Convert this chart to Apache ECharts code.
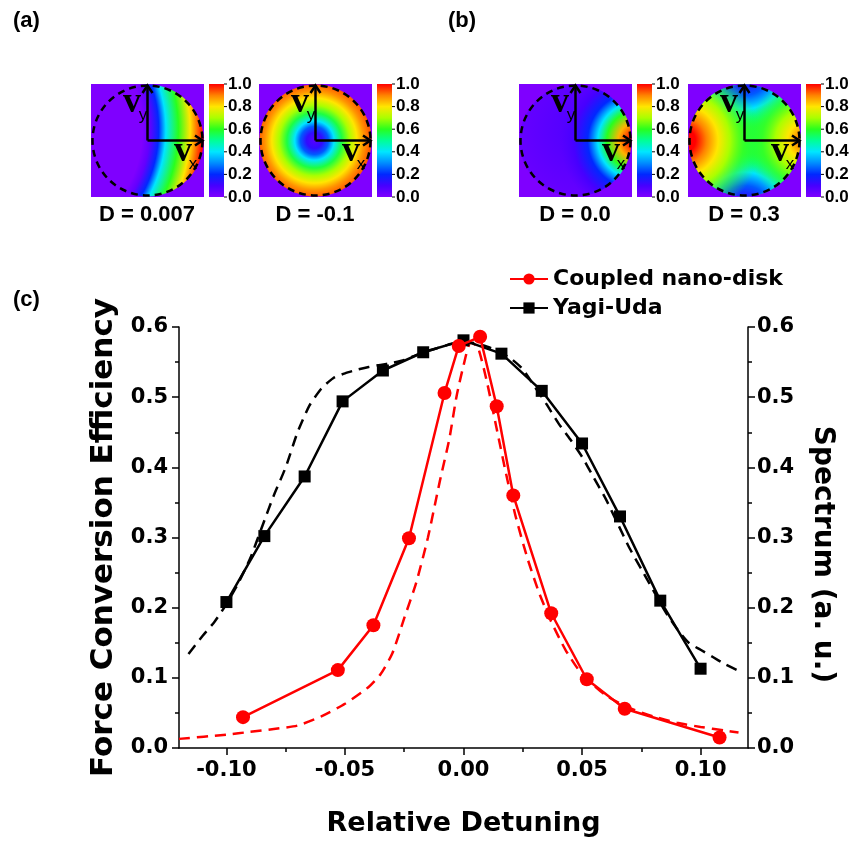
<!DOCTYPE html>
<html><head><meta charset="utf-8">
<script src="https://cdn.jsdelivr.net/npm/echarts@6.0.0/dist/echarts.min.js"></script>
<style>html,body{margin:0;padding:0;background:#fff}#c{width:851px;height:842px}</style>
</head><body><div id="c"></div><script>
// ---------- data ----------
const coupledX = [-0.093, -0.053, -0.038, -0.023, -0.008, -0.002, 0.007, 0.014, 0.021, 0.037, 0.052, 0.068, 0.108];
const coupledY = [0.044, 0.111, 0.175, 0.299, 0.506, 0.573, 0.586, 0.487, 0.360, 0.192, 0.098, 0.056, 0.015];
const yagiX = [-0.100, -0.084, -0.067, -0.051, -0.034, -0.017, 0.000, 0.016, 0.033, 0.050, 0.066, 0.083, 0.100];
const yagiY = [0.208, 0.302, 0.387, 0.494, 0.538, 0.564, 0.581, 0.562, 0.509, 0.434, 0.330, 0.210, 0.113];
const coupledSpecX = [-0.120, -0.100, -0.090, -0.080, -0.070, -0.060, -0.050, -0.040, -0.035, -0.030, -0.025, -0.020, -0.015, -0.010, -0.006, -0.003, 0.000, 0.003, 0.006, 0.010, 0.014, 0.018, 0.022, 0.027, 0.032, 0.037, 0.043, 0.050, 0.060, 0.070, 0.080, 0.090, 0.100, 0.110, 0.116];
const coupledSpecY = [0.013, 0.019, 0.023, 0.027, 0.032, 0.045, 0.063, 0.087, 0.105, 0.135, 0.185, 0.235, 0.300, 0.380, 0.440, 0.500, 0.545, 0.578, 0.572, 0.520, 0.455, 0.390, 0.330, 0.270, 0.220, 0.180, 0.140, 0.105, 0.075, 0.057, 0.045, 0.036, 0.030, 0.025, 0.022];
const yagiSpecX = [-0.116, -0.110, -0.105, -0.100, -0.095, -0.090, -0.085, -0.080, -0.075, -0.070, -0.065, -0.060, -0.055, -0.050, -0.045, -0.040, -0.035, -0.030, -0.025, -0.020, -0.015, -0.010, -0.005, 0.000, 0.005, 0.010, 0.015, 0.020, 0.025, 0.030, 0.035, 0.040, 0.045, 0.050, 0.055, 0.060, 0.065, 0.070, 0.075, 0.080, 0.085, 0.090, 0.095, 0.100, 0.105, 0.110, 0.116];
const yagiSpecY = [0.134, 0.160, 0.180, 0.205, 0.235, 0.270, 0.315, 0.360, 0.400, 0.450, 0.488, 0.512, 0.527, 0.534, 0.539, 0.543, 0.546, 0.549, 0.553, 0.560, 0.566, 0.571, 0.576, 0.578, 0.577, 0.572, 0.565, 0.555, 0.540, 0.515, 0.490, 0.463, 0.440, 0.415, 0.385, 0.355, 0.320, 0.285, 0.255, 0.225, 0.195, 0.170, 0.150, 0.140, 0.130, 0.120, 0.110];
const xMajorTicks = [-0.10, -0.05, 0.00, 0.05, 0.10];
const xMinorTicks = [-0.075, -0.025, 0.025, 0.075];
const cbarTicks = [0.0, 0.2, 0.4, 0.6, 0.8, 1.0];
const insetTitles = ['D = 0.007', 'D = -0.1', 'D = 0.0', 'D = 0.3'];
const panelLabels = ['(a)', '(b)', '(c)'];
const seriesNames = ['Coupled nano-disk', 'Yagi-Uda'];
const xName = 'Relative Detuning';
const yLeftName = 'Force Conversion Efficiency';
const yRightName = 'Spectrum (a. u.)';

// ---------- styling helpers ----------
const FONT = '"DejaVu Sans", sans-serif';
const AFONT = '"Liberation Sans", Arial, sans-serif';
const cmapStops = [[0,[127,0,255]],[0.1,[70,0,255]],[0.2,[0,40,255]],[0.3,[0,140,255]],[0.4,[0,230,255]],[0.5,[0,255,150]],[0.6,[40,255,30]],[0.7,[170,255,0]],[0.8,[255,230,0]],[0.9,[255,130,0]],[1,[255,0,0]]];
function cmap(v, a) {
  v = Math.max(0, Math.min(1, v));
  for (let i = 1; i < cmapStops.length; i++) {
    if (v <= cmapStops[i][0]) {
      const [v0, c0] = cmapStops[i-1], [v1, c1] = cmapStops[i];
      const t = (v - v0) / (v1 - v0);
      const c = c0.map((k, j) => Math.round(k + (c1[j] - k) * t));
      return 'rgba(' + c.join(',') + ',' + (a === undefined ? 1 : a) + ')';
    }
  }
  return 'rgba(255,0,0,' + (a === undefined ? 1 : a) + ')';
}
function stops(list) { return list.map(s => ({offset: s[0], color: cmap(s[1], s[2])})); }
function radial(x, y, r, list) { return {type: 'radial', x: x, y: y, r: r, colorStops: stops(list), global: false}; }

const insetFills = [
  [radial(-0.6, 0.4, 1.6, [[0,0],[0.66,0],[0.70,0.05],[0.75,0.2],[0.79,0.4],[0.86,0.6],[0.925,0.8],[1,1]])],
  [radial(0.49, 0.5, 0.5, [[0,0.07],[0.14,0.13],[0.25,0.25],[0.35,0.4],[0.49,0.57],[0.63,0.7],[0.76,0.8],[0.88,0.88],[1,0.93]])],
  [radial(0.6, 0.4, 0.8, [[0,0.09],[1,0.03]]),
   radial(1.04, 0.5, 0.68, [[0,1],[0.067,1],[0.233,0.85],[0.383,0.6],[0.5,0.4],[0.633,0.2],[0.817,0.1],[1,0.08,0]])],
  [null,
   radial(0.5, -0.15, 0.55, [[0,0.05],[0.27,0.15],[0.45,0.25],[0.67,0.4],[0.85,0.5,0.6],[1,0.55,0]]),
   radial(0.5, 1.15, 0.55, [[0,0.05],[0.27,0.15],[0.45,0.25],[0.67,0.4],[0.85,0.5,0.6],[1,0.55,0]]),
   radial(-0.05, 0.5, 0.7, [[0,1],[0.16,1],[0.3,0.9],[0.45,0.8],[0.6,0.7],[0.78,0.62,0.6],[1,0.58,0]]),
   radial(1.05, 0.5, 0.55, [[0,0.95],[0.12,0.9],[0.3,0.8],[0.5,0.7],[0.72,0.62,0.6],[1,0.58,0]])]
];
insetFills[3][0] = cmap(0.57);

const insetX = [91, 259, 519, 688];
const insetY = 84, S = 113;
const graphics = [];
function txt(x, y, text, font, align, valign) {
  graphics.push({type: 'text', silent: true, style: {x: x, y: y, text: text, font: font, fill: '#000', align: align, verticalAlign: valign, textAlign: align, textVerticalAlign: valign}});
}
insetX.forEach((hx, k) => {
  const hy = insetY, cx = hx + S / 2, cy = hy + S / 2, R = S / 2 - 0.5;
  graphics.push({type: 'rect', silent: true, shape: {x: hx, y: hy, width: S, height: S}, style: {fill: cmap(0)}});
  insetFills[k].forEach(f => graphics.push({type: 'circle', silent: true, shape: {cx: cx, cy: cy, r: R}, style: {fill: f}}));
  graphics.push({type: 'circle', silent: true, shape: {cx: cx, cy: cy, r: R - 1}, style: {fill: null, stroke: '#000', lineWidth: 2.5, lineDash: [7, 5]}});
  graphics.push({type: 'line', silent: true, shape: {x1: cx, y1: cy, x2: cx, y2: hy + 1}, style: {stroke: '#000', lineWidth: 2.5}});
  graphics.push({type: 'line', silent: true, shape: {x1: cx, y1: cy, x2: hx + S - 1, y2: cy}, style: {stroke: '#000', lineWidth: 2.5}});
  graphics.push({type: 'polyline', silent: true, shape: {points: [[cx - 5, hy + 9], [cx, hy + 1.5], [cx + 5, hy + 9]]}, style: {fill: null, stroke: '#000', lineWidth: 2.5}});
  graphics.push({type: 'polyline', silent: true, shape: {points: [[hx + S - 9, cy - 5], [hx + S - 1.5, cy], [hx + S - 9, cy + 5]]}, style: {fill: null, stroke: '#000', lineWidth: 2.5}});
  txt(hx + 41, hy + 19, 'v', 'bold 36px "Liberation Serif", serif', 'center', 'middle');
  txt(hx + 52, hy + 31, 'y', '17px ' + AFONT, 'center', 'middle');
  txt(hx + 92, hy + 68, 'v', 'bold 36px "Liberation Serif", serif', 'center', 'middle');
  txt(hx + 102, hy + 80, 'x', '17px ' + AFONT, 'center', 'middle');
  graphics.push({type: 'rect', silent: true, shape: {x: hx + 118, y: hy, width: 15, height: S},
    style: {fill: {type: 'linear', x: 0, y: 1, x2: 0, y2: 0, colorStops: stops([[0,0],[0.1,0.1],[0.2,0.2],[0.3,0.3],[0.4,0.4],[0.5,0.5],[0.6,0.6],[0.7,0.7],[0.8,0.8],[0.9,0.9],[1,1]]), global: false}}});
  cbarTicks.forEach(v => {
    const ty = hy + S * (1 - v);
    graphics.push({type: 'line', silent: true, shape: {x1: hx + 133, y1: ty, x2: hx + 136, y2: ty}, style: {stroke: '#000', lineWidth: 1}});
    txt(hx + 137, ty, v.toFixed(1), 'bold 17px ' + AFONT, 'left', 'middle');
  });
  txt(hx + 56, hy + 131, insetTitles[k], 'bold 22px ' + AFONT, 'center', 'middle');
});
txt(13, 21, panelLabels[0], 'bold 22px ' + AFONT, 'left', 'middle');
txt(448, 21, panelLabels[1], 'bold 22px ' + AFONT, 'left', 'middle');
txt(13, 300, panelLabels[2], 'bold 22px ' + AFONT, 'left', 'middle');

// ---------- chart ----------
const zip = (xs, ys) => xs.map((x, i) => [x, ys[i]]);
const black = '#000';
const tickLabel = {fontFamily: FONT, fontWeight: 'bold', fontSize: 21, color: black};
const nameStyle = {fontFamily: FONT, fontWeight: 'bold', fontSize: 28, color: black};
const yAxisBase = {
  type: 'value', min: 0, max: 0.6, interval: 0.1,
  axisLine: {show: true, onZero: false, lineStyle: {color: black, width: 1.5}},
  axisTick: {show: true, inside: false, length: 7, lineStyle: {color: black, width: 1.5}},
  minorTick: {show: true, splitNumber: 2, length: 4, lineStyle: {color: black, width: 1.5}},
  splitLine: {show: false},
  axisLabel: Object.assign({formatter: v => v.toFixed(1)}, tickLabel),
  nameLocation: 'middle'
};
const chart = echarts.init(document.getElementById('c'));
chart.setOption({
  animation: false,
  backgroundColor: '#fff',
  grid: {left: 179, right: 103, top: 327, bottom: 93, containLabel: false},
  legend: {
    data: seriesNames, orient: 'vertical', left: 504, top: 263, itemWidth: 38, itemHeight: 14, itemGap: 7,
    textStyle: {fontFamily: FONT, fontWeight: 'bold', fontSize: 22, color: black}
  },
  xAxis: [
    {type: 'value', min: -0.12, max: 0.12, position: 'bottom',
     axisLine: {onZero: false, lineStyle: {color: black, width: 1.5}},
     axisTick: {show: true, inside: false, length: 7, customValues: xMajorTicks, lineStyle: {color: black, width: 1.5}},
     axisLabel: Object.assign({customValues: xMajorTicks, formatter: v => v.toFixed(2), margin: 12}, tickLabel),
     splitLine: {show: false},
     name: xName, nameLocation: 'middle', nameGap: 62, nameTextStyle: Object.assign({}, nameStyle, {fontSize: 27})},
    {type: 'value', min: -0.12, max: 0.12, position: 'bottom',
     axisLine: {show: false, onZero: false},
     axisTick: {show: true, inside: false, length: 4, customValues: xMinorTicks, lineStyle: {color: black, width: 1.5}},
     axisLabel: {show: false}, splitLine: {show: false}}
  ],
  yAxis: [
    Object.assign({}, yAxisBase, {position: 'left', name: yLeftName, nameGap: 56, nameRotate: 90,
      nameTextStyle: Object.assign({}, nameStyle, {fontSize: 31}),
      axisLabel: Object.assign({}, yAxisBase.axisLabel, {margin: 11})}),
    Object.assign({}, yAxisBase, {position: 'right', name: yRightName, nameGap: 60, nameRotate: -90,
      nameTextStyle: Object.assign({}, nameStyle, {fontSize: 28, padding: [0, 0, 0, 34]}),
      axisLabel: Object.assign({}, yAxisBase.axisLabel, {margin: 9})})
  ],
  series: [
    {name: seriesNames[0], type: 'line', xAxisIndex: 0, yAxisIndex: 0, data: zip(coupledX, coupledY),
     symbol: 'circle', symbolSize: 14, lineStyle: {color: '#ff0000', width: 2.5}, itemStyle: {color: '#ff0000'}, z: 5},
    {name: seriesNames[1], type: 'line', xAxisIndex: 0, yAxisIndex: 0, data: zip(yagiX, yagiY),
     symbol: 'rect', symbolSize: 12, lineStyle: {color: black, width: 2.5}, itemStyle: {color: black}, z: 4},
    {name: 'Coupled spectrum', type: 'line', xAxisIndex: 0, yAxisIndex: 1, data: zip(coupledSpecX, coupledSpecY),
     symbol: 'none', smooth: 0.2, lineStyle: {color: '#ff0000', width: 2.5, type: [11, 7]}, z: 3},
    {name: 'Yagi spectrum', type: 'line', xAxisIndex: 0, yAxisIndex: 1, data: zip(yagiSpecX, yagiSpecY),
     symbol: 'none', smooth: 0.2, lineStyle: {color: black, width: 2.5, type: [11, 7]}, z: 3}
  ],
  graphic: {elements: graphics}
});
</script></body></html>
